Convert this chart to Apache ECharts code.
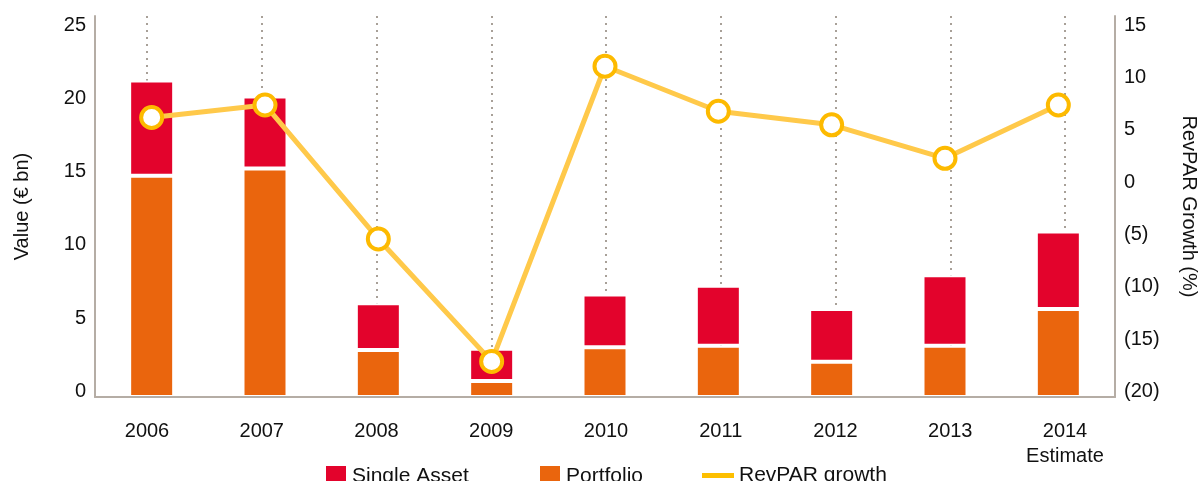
<!DOCTYPE html>
<html>
<head>
<meta charset="utf-8">
<title>Hotel transactions</title>
<script src="https://cdn.jsdelivr.net/npm/echarts@6/dist/echarts.min.js"></script>
<style>
html,body{margin:0;padding:0;background:#fff;}
#main{width:1200px;height:481px;}
</style>
</head>
<body>
<div id="main"></div>
<script>
// data
var years = ['2006','2007','2008','2009','2010','2011','2012','2013','2014'];
var yearLabels = ['2006','2007','2008','2009','2010','2011','2012','2013','2014\nEstimate'];
var portfolio = [15.1, 15.6, 3.2, 1.1, 3.4, 3.5, 2.4, 3.5, 6.0];
var singleAsset = [6.5, 4.9, 3.2, 2.2, 3.6, 4.1, 3.6, 4.8, 5.3];
var revpar = [6.7, 7.9, -4.9, -16.6, 11.6, 7.3, 6.0, 2.8, 7.9];

var axisColor = '#b5ada5';
var font = "'Liberation Sans', Arial, Helvetica, sans-serif";

var myChart = echarts.init(document.getElementById('main'));

var option = {
    animation: false,
    textStyle: { fontFamily: font, color: '#111' },
    legend: [
        { data: ['Single Asset'], left: 324, top: 464, padding: 0, itemWidth: 22, itemHeight: 22, icon: 'rect',
          textStyle: { fontSize: 21, color: '#111', fontFamily: font } },
        { data: ['Portfolio'], left: 538, top: 464, padding: 0, itemWidth: 22, itemHeight: 22, icon: 'rect',
          textStyle: { fontSize: 21, color: '#111', fontFamily: font } },
        { data: [{ name: 'RevPAR growth', icon: 'rect', itemStyle: { color: '#fdbf00', borderWidth: 0 } }],
          left: 702, top: 465, padding: 0, itemWidth: 32, itemHeight: 5,
          textStyle: { fontSize: 21, color: '#111', fontFamily: font } }
    ],
    grid: [
        { left: 95, right: 85, top: 16, bottom: 84, containLabel: false, outerBoundsMode: 'none' },   // bars + line
        { left: 147, right: 135, top: 16, bottom: 84, containLabel: false, outerBoundsMode: 'none' }  // dotted guides + year labels
    ],
    xAxis: [
        {
            type: 'category', gridIndex: 0, data: years, z: 3,
            axisLine: { show: true, lineStyle: { color: axisColor, width: 2 } },
            axisTick: { show: false },
            axisLabel: { show: false },
            splitLine: { show: false }
        },
        {
            type: 'category', gridIndex: 1, data: yearLabels, boundaryGap: false,
            axisLine: { show: false },
            axisTick: { show: false },
            axisLabel: { fontSize: 20, color: '#111', fontFamily: font, margin: 22, lineHeight: 25 },
            splitLine: { show: true, lineStyle: { color: '#a8a098', width: 2, type: [2, 5] } }
        }
    ],
    yAxis: [
        {
            type: 'value', gridIndex: 0, min: 0, max: 26, interval: 5,
            name: 'Value (€ bn)', nameLocation: 'middle', nameGap: 63,
            nameTextStyle: { fontSize: 20, color: '#111', fontFamily: font },
            axisLine: { show: true, lineStyle: { color: axisColor, width: 2 } },
            axisTick: { show: false },
            splitLine: { show: false },
            axisLabel: {
                fontSize: 20, color: '#111', fontFamily: font, margin: 9,
                verticalAlign: 'bottom', lineHeight: 11,
                formatter: function (v) { return v % 5 === 0 ? String(v) : ''; }
            }
        },
        {
            type: 'value', gridIndex: 0, position: 'right', min: -20, max: 16.4, interval: 5,
            name: 'RevPAR Growth (%)', nameLocation: 'middle', nameGap: 64, nameRotate: -90,
            nameTextStyle: { fontSize: 20, color: '#111', fontFamily: font },
            axisLine: { show: true, lineStyle: { color: axisColor, width: 2 } },
            axisTick: { show: false },
            splitLine: { show: false },
            axisLabel: {
                fontSize: 20, color: '#111', fontFamily: font, margin: 9,
                verticalAlign: 'bottom', lineHeight: 11,
                formatter: function (v) {
                    if (Math.abs(v % 5) > 0.001) return '';
                    return v < 0 ? '(' + (-v) + ')' : String(v);
                }
            }
        },
        { type: 'value', gridIndex: 1, show: false, min: 0, max: 1 }
    ],
    series: [
        {
            name: 'Portfolio', type: 'bar', stack: 'value', xAxisIndex: 0, yAxisIndex: 0,
            barWidth: 45, data: portfolio,
            itemStyle: { color: '#ea650d', borderColor: '#fff', borderWidth: 2 }
        },
        {
            name: 'Single Asset', type: 'bar', stack: 'value', xAxisIndex: 0, yAxisIndex: 0,
            barWidth: 45, data: singleAsset,
            itemStyle: { color: '#e3032c', borderColor: '#fff', borderWidth: 2 }
        },
        {
            name: 'RevPAR growth', type: 'line', xAxisIndex: 0, yAxisIndex: 1, data: revpar,
            symbol: 'circle', symbolSize: 21, z: 5,
            lineStyle: { color: '#ffc94a', width: 5 },
            itemStyle: { color: '#fff', borderColor: '#fdba00', borderWidth: 4 }
        }
    ]
};
myChart.setOption(option);
</script>
</body>
</html>
